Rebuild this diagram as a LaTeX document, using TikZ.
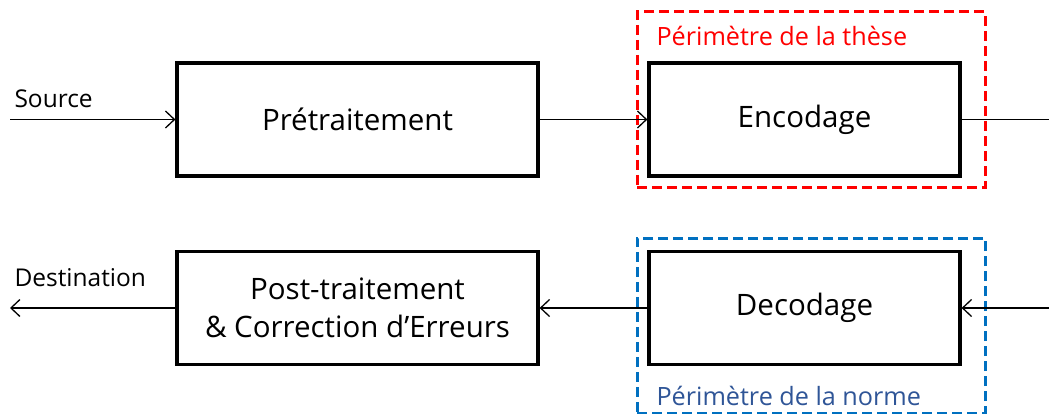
\documentclass[tikz,border=0pt]{standalone}
\usepackage{fontspec}
\setmainfont{Open Sans}
\usetikzlibrary{arrows.meta, positioning}
\definecolor{rouge}{HTML}{FF0000}
\definecolor{bleu}{HTML}{0070C0}
\definecolor{bleutexte}{HTML}{2F5597}
\begin{document}
\begin{tikzpicture}[x=1pt, y=-1pt,
bloc/.style={
  draw, line width=3.2pt,
  minimum height=113pt,
  align=center,
  font=\fontsize{29.5}{38}\selectfont
},
cadre/.style={
  draw, line width=3pt,
  dash pattern=on 10pt off 5pt,
  minimum width=348pt, minimum height=176pt
},
fleche/.style={line width=1.3pt, -{Straight Barb[length=9pt, width=17pt, line width=1.3pt]}},
lien/.style={line width=1.3pt},
etiq/.style={anchor=base west, font=\fontsize{24.5}{28}\selectfont},
perim/.style={anchor=base west, font=\fontsize{25.2}{30}\selectfont}
]
\useasboundingbox (0,0) rectangle (1049,414);

% zones
\node (these) [cadre, draw=rouge] at (811,100) {};
\node (norme) [cadre, draw=bleu, minimum height=175pt] at (811,325.5) {};
\node [perim, text=rouge] at (653,46) {Périmètre de la thèse};
\node [perim, text=bleutexte] at (653,405) {Périmètre de la norme};

% blocs
\node (pre) [bloc, minimum width=361pt] at (357.5,119.5) {Prétraitement};
\node (enc) [bloc, minimum width=311pt] at (804.5,119.5) {Encodage};
\node (post) [bloc, minimum width=361pt] at (357.5,308) {Post-traitement\\\& Correction d’Erreurs};
\node (dec) [bloc, minimum width=311pt] at (804.5,308) {Decodage};

\coordinate (src) at (10,119.5);
\coordinate (sortie) at (1049,119.5);
\coordinate (entree) at (1049,308);
\coordinate (dst) at (10,308);

\node [etiq] at (11,108) {Source};
\node [etiq] at (11,286) {Destination};

\draw [fleche] (src) -- (pre.west);
\draw [fleche] (pre) -- (enc);
\draw [lien] (enc.east) -- (sortie);
\draw [fleche] (entree) -- (dec.east);
\draw [fleche] (dec) -- (post);
\draw [fleche] (post.west) -- (dst);
\end{tikzpicture}
\end{document}
